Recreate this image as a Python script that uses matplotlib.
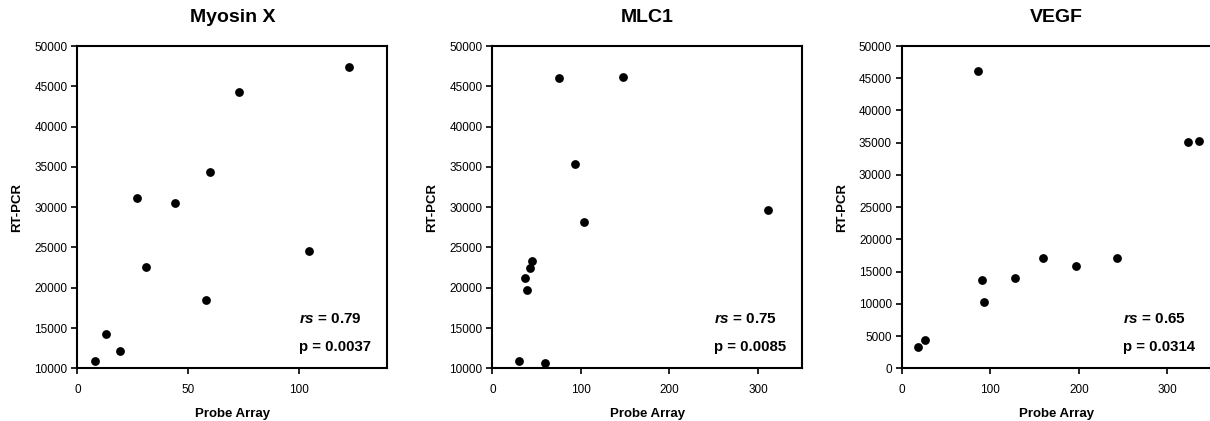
import matplotlib
matplotlib.use("Agg")
import matplotlib.pyplot as plt

plt.rcParams['font.family'] = ['Liberation Sans', 'DejaVu Sans']
plt.rcParams['mathtext.fontset'] = 'custom'
plt.rcParams['mathtext.it'] = 'Liberation Sans:italic:bold'
plt.rcParams['mathtext.rm'] = 'Liberation Sans:bold'

# Myosin X
myo_x = [8.1, 13.0, 19.5, 26.9, 31.1, 44.3, 57.9, 59.9, 72.9, 104.8, 122.8]
myo_y = [10900, 14200, 12200, 31100, 22600, 30500, 18500, 34400, 44300, 24500, 47400]
# MLC1
mlc_x = [30.5, 59.0, 37.2, 39.1, 42.9, 44.4, 75.6, 92.9, 103.8, 147.4, 311.7]
mlc_y = [10900, 10600, 21250, 19700, 22400, 23300, 46050, 35400, 28200, 46200, 29600]
# VEGF
vegf_x = [18.1, 26.4, 85.7, 90.6, 93.2, 128.3, 159.6, 196.6, 242.6, 323.0, 335.5]
vegf_y = [3250, 4400, 46150, 13750, 10350, 13950, 17100, 15850, 17100, 35100, 35250]

titles = ["Myosin X", "MLC1", "VEGF"]
rs_labels = ["0.79", "0.75", "0.65"]
p_labels = ["0.0037", "0.0085", "0.0314"]
xlims = [(0, 140), (0, 350), (0, 350)]
ylims = [(10000, 50000), (10000, 50000), (0, 50000)]
xticks = [[0, 50, 100], [0, 100, 200, 300], [0, 100, 200, 300]]
yticks = [list(range(10000, 50001, 5000)), list(range(10000, 50001, 5000)), list(range(0, 50001, 5000))]

data = [(myo_x, myo_y), (mlc_x, mlc_y), (vegf_x, vegf_y)]

fig = plt.figure(figsize=(12.1, 4.21), dpi=100)
lefts = [0.0639, 0.4069, 0.7452]
width = 0.2562
bottom = 0.1252
height = 0.7655

for i in range(3):
    ax = fig.add_axes([lefts[i], bottom, width, height])
    x, y = data[i]
    ax.scatter(x, y, s=40, color='black', zorder=3, linewidths=0)
    ax.set_xlim(*xlims[i])
    ax.set_ylim(*ylims[i])
    ax.set_xticks(xticks[i])
    ax.set_yticks(yticks[i])
    ax.tick_params(axis='both', direction='out', length=4, width=1.2, labelsize=8.5)
    ax.tick_params(axis='y', pad=3)
    ax.tick_params(axis='x', pad=7)
    for s in ax.spines.values():
        s.set_linewidth(1.5)
    ax.set_title(titles[i], fontsize=14, fontweight='bold', pad=17)
    ax.set_xlabel("Probe Array", fontsize=9.5, fontweight='bold', labelpad=9)
    ax.set_ylabel("RT-PCR", fontsize=9.5, fontweight='bold', labelpad=8)
    ax.text(0.715, 0.152, r"$rs$ = " + rs_labels[i], transform=ax.transAxes,
            fontsize=11, fontweight='bold', va='center', ha='left')
    ax.text(0.715, 0.067, "p = " + p_labels[i], transform=ax.transAxes,
            fontsize=10.8, fontweight='bold', va='center', ha='left')

fig.savefig("out.png", dpi=100)
